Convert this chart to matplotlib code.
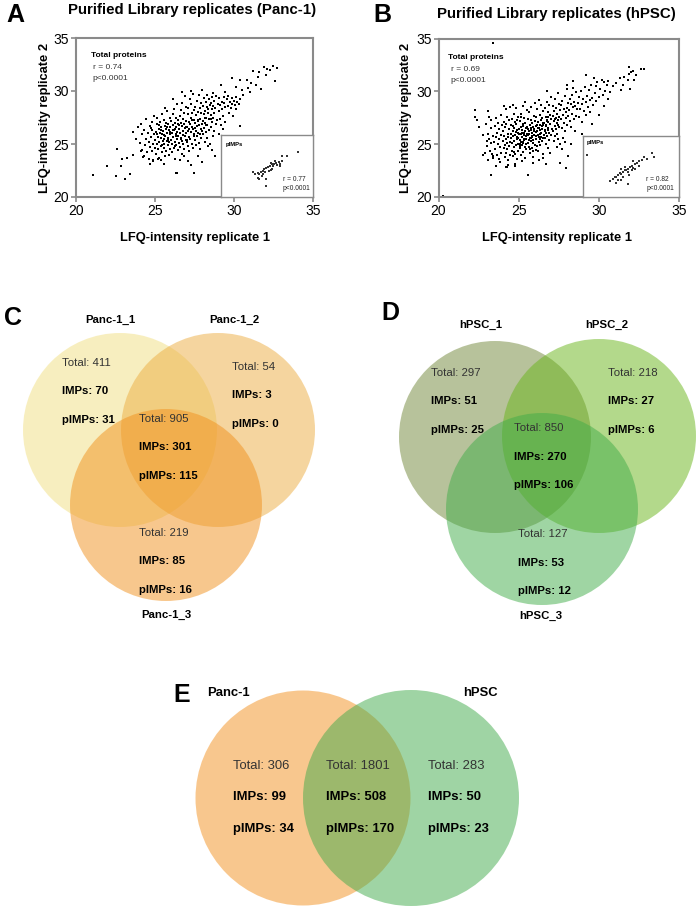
import matplotlib
matplotlib.use("Agg")
import matplotlib.pyplot as plt
from matplotlib.patches import Circle

plt.rcParams['font.family'] = ['Liberation Sans', 'DejaVu Sans']

# ---------------- DATA ----------------
# Panel A: Panc-1 replicate LFQ intensities (replicate 1, replicate 2)
panc1_points = [
    (21.05,22.1),(21.95,22.95),(22.5,21.95),(22.85,22.95),(23.1,21.7),(23.4,22.2),(22.9,23.6),(23.2,23.7),
    (22.6,24.5),(23.6,24.0),(23.8,25.5),(23.9,26.6),(23.6,26.1),(24.1,24.3),(24.3,23.9),(24.7,23.1),
    (24.9,23.5),(25.2,23.6),(25.6,23.1),(26.4,22.3),(27.5,22.3),(28.0,23.3),
    (24.05,25.1),(24.1,26.9),(24.15,24.4),(24.2,25.9),(24.25,23.8),(24.3,26.3),(24.35,24.9),(24.4,27.4),
    (24.45,25.5),(24.5,24.2),
    (24.55,26.0),(24.6,25.2),(24.62,23.6),(24.66,26.7),(24.7,24.7),(24.74,25.7),(24.78,27.1),(24.8,24.3),
    (24.84,26.3),(24.88,25.0),(24.9,23.4),(24.93,25.9),(24.96,27.6),(24.98,24.6),(24.72,26.5),
    (25.02,25.4),(25.05,26.1),(25.08,24.1),(25.1,26.9),(25.12,25.0),(25.15,27.5),(25.18,25.7),(25.2,24.5),
    (25.23,26.4),(25.26,23.7),(25.28,25.2),(25.3,26.0),(25.33,27.1),(25.36,24.8),(25.38,25.6),(25.4,26.6),
    (25.42,24.2),(25.45,25.9),(25.47,27.8),(25.49,25.3),(25.25,26.8),(25.35,23.5),
    (25.52,26.2),(25.54,24.6),(25.56,25.5),(25.58,27.3),(25.6,25.0),(25.62,26.7),(25.64,23.9),(25.66,25.8),
    (25.68,26.4),(25.7,24.3),(25.72,27.0),(25.74,25.3),(25.76,26.0),(25.78,28.1),(25.8,24.9),(25.82,25.6),
    (25.84,26.9),(25.86,24.0),(25.88,26.3),(25.9,25.2),(25.92,27.5),(25.94,25.9),(25.96,24.5),(25.98,26.6),
    (25.65,28.4),
    (26.02,25.4),(26.04,27.2),(26.06,24.2),(26.08,26.0),(26.1,25.0),(26.12,26.8),(26.14,27.8),(26.16,25.7),
    (26.18,24.6),(26.2,26.3),(26.22,28.3),(26.24,25.2),(26.26,27.0),(26.28,23.6),(26.3,25.9),(26.32,26.6),
    (26.34,24.9),(26.36,27.5),(26.38,25.5),(26.4,26.1),(26.42,28.8),(26.44,24.4),(26.46,26.9),(26.48,25.8),
    (26.15,29.2),(26.35,22.3),(26.27,26.45),(26.45,27.3),
    (26.52,26.4),(26.54,25.1),(26.56,27.6),(26.58,24.7),(26.6,26.0),(26.62,28.2),(26.64,25.6),(26.66,27.0),
    (26.68,24.1),(26.7,26.7),(26.72,25.3),(26.74,28.9),(26.76,26.2),(26.78,27.4),(26.8,25.0),(26.82,26.9),
    (26.84,24.5),(26.86,27.9),(26.88,25.8),(26.9,26.5),(26.92,29.5),(26.94,25.4),(26.96,27.2),(26.98,26.0),
    (26.6,23.5),(26.85,23.9),(26.7,29.9),(26.99,28.5),
    (27.02,26.6),(27.04,25.2),(27.06,27.8),(27.08,24.8),(27.1,26.2),(27.12,28.4),(27.14,25.7),(27.16,27.1),
    (27.18,24.3),(27.2,26.9),(27.22,29.2),(27.24,25.5),(27.26,27.5),(27.28,26.1),(27.3,28.8),(27.32,25.0),
    (27.34,26.6),(27.36,27.9),(27.38,24.6),(27.4,26.4),(27.42,29.7),(27.44,25.9),(27.46,27.3),(27.48,28.2),
    (27.1,23.4),(27.3,23.0),(27.45,22.3),(27.25,30.0),
    (27.52,27.0),(27.54,25.4),(27.56,28.5),(27.58,26.2),(27.6,27.7),(27.62,24.9),(27.64,26.7),(27.66,29.1),
    (27.68,25.8),(27.7,27.3),(27.72,28.0),(27.74,26.0),(27.76,29.6),(27.78,25.1),(27.8,26.8),(27.82,28.4),
    (27.84,27.4),(27.86,24.5),(27.88,26.4),(27.9,28.9),(27.92,25.6),(27.94,27.9),(27.96,26.9),(27.98,30.1),
    (27.7,23.9),(27.95,23.3),
    (28.02,27.2),(28.04,28.6),(28.06,25.9),(28.08,27.8),(28.1,26.5),(28.12,29.3),(28.14,25.2),(28.16,28.1),
    (28.18,27.0),(28.2,26.1),(28.22,29.0),(28.24,27.5),(28.26,28.5),(28.28,25.6),(28.3,26.8),(28.32,29.6),
    (28.34,27.9),(28.36,24.8),(28.38,28.3),(28.4,26.3),(28.42,27.4),(28.44,29.2),(28.46,25.0),(28.48,28.7),
    (28.52,27.7),(28.54,28.9),(28.56,26.6),(28.58,29.4),(28.6,27.1),(28.62,28.3),(28.64,25.8),(28.66,29.8),
    (28.68,27.5),(28.7,28.6),(28.72,26.2),(28.74,29.1),(28.76,27.9),(28.8,28.4),(28.84,26.9),(28.88,29.5),
    (28.92,27.3),(28.96,28.8),(28.6,24.4),(28.8,23.9),
    (29.02,28.1),(29.06,29.3),(29.1,27.4),(29.14,28.7),(29.18,26.8),(29.22,29.0),(29.26,28.3),(29.3,27.6),
    (29.34,29.4),(29.38,28.9),(29.42,27.1),(29.46,28.5),(29.2,30.6),(29.4,29.9),(29.05,25.9),(29.3,26.4),
    (29.55,29.2),(29.6,28.6),(29.65,29.5),(29.7,27.9),(29.75,29.0),(29.8,28.4),(29.85,29.3),(29.9,28.8),
    (29.95,27.6),(30.0,29.1),(30.05,28.7),(30.1,29.4),(30.15,28.3),(30.2,29.0),(30.3,28.8),(30.4,29.2),
    (29.9,31.2),(30.15,30.4),
    (30.36,31.0),(30.5,30.1),(30.6,29.6),(30.8,31.07),(30.9,30.3),(31.0,29.9),(31.2,31.9),(31.4,30.6),
    (31.5,31.3),(31.6,31.75),(31.7,30.2),(31.9,32.3),(32.0,31.5),(32.25,31.95),(32.46,32.33),(32.6,30.9),
    (32.7,32.2),(30.36,26.67),(31.1,30.8),(32.1,32.1),
    (25.15,25.95),(25.35,26.35),(25.55,25.85),(25.75,26.65),(25.95,26.15),(26.15,26.35),(26.35,25.75),
    (26.55,26.75),(26.75,25.85),(26.95,26.65),(27.15,26.45),(27.35,27.25),(27.55,26.55),(27.75,27.15),
    (27.95,26.25),(28.15,27.45),(25.45,24.95),(25.85,25.35),(26.25,24.85),(26.65,25.45),(27.05,25.35),
    (27.45,25.75),(27.85,25.95),(28.25,26.75),(28.55,27.35),
]
# Panel A inset: pIMPs
panc1_pimp_points = [
    (32.6,31.0),(30.8,30.0),(30.0,29.8),(29.9,28.8),(29.4,28.4),(29.0,28.2),(28.8,28.6),(28.7,28.0),
    (28.4,27.9),(28.1,28.2),(28.0,27.6),(28.5,27.4),(29.2,27.7),(29.6,28.0),(27.7,27.2),(27.4,27.1),
    (27.0,26.8),(26.8,26.4),(26.5,26.0),(27.2,26.0),(26.2,25.6),(26.0,25.8),(25.6,25.5),(26.7,25.0),
    (27.8,26.2),(28.2,26.6),(27.4,24.3),(26.1,24.6),(25.3,26.0),(27.3,22.6),(26.2,24.4),(26.9,25.6),
    (28.4,26.8),(28.9,28.7),(29.7,27.6),
]
panc1_r, panc1_p = "r = 0.74", "p<0.0001"
panc1_pimp_r, panc1_pimp_p = "r = 0.77", "p<0.0001"

# Panel B: hPSC replicate LFQ intensities
hpsc_points = [
    (22.28,28.2),(22.43,27.3),(22.53,26.6),(23.17,27.56),(23.11,28.1),(22.97,26.93),(20.3,20.1),(23.4,34.6),
    (23.26,22.07),(25.56,22.07),(27.93,22.7),(27.6,23.2),(24.2,22.86),(26.5,23.65),(22.9,24.2),(22.8,24.0),
    (23.1,23.5),(23.4,23.9),(23.0,25.3),(22.8,25.9),(23.6,22.9),(24.3,22.8),(24.8,23.1),(22.3,27.6),
    (23.05,24.8),(23.1,26.0),(23.15,25.5),(23.2,24.4),(23.25,26.5),(23.3,25.1),(23.35,24.1),(23.4,25.8),
    (23.27,27.3),(23.37,23.7),
    (23.49,25.2),(23.52,26.7),(23.55,24.5),(23.57,25.7),(23.6,27.5),(23.63,24.0),(23.67,26.1),(23.69,25.0),
    (23.72,27.0),(23.75,23.6),(23.77,25.5),(23.8,26.4),(23.83,24.7),(23.87,27.8),(23.89,25.9),(23.92,24.2),
    (23.95,26.8),(23.85,23.3),
    (24.02,25.3),(24.04,26.2),(24.06,24.6),(24.08,27.1),(24.1,25.8),(24.12,23.8),(24.14,26.6),(24.16,24.9),
    (24.18,28.3),(24.2,25.5),(24.22,24.2),(24.24,26.9),(24.26,25.1),(24.28,27.6),(24.3,24.5),(24.32,26.0),
    (24.34,23.5),(24.36,25.7),(24.38,27.3),(24.4,24.8),(24.42,26.4),(24.44,25.2),(24.46,28.5),(24.48,24.0),
    (24.1,28.6),(24.35,23.0),
    (24.52,25.6),(24.54,26.8),(24.56,24.4),(24.58,27.4),(24.6,25.1),(24.62,26.2),(24.64,23.9),(24.66,25.8),
    (24.68,27.9),(24.7,24.7),(24.72,26.5),(24.74,25.3),(24.76,27.1),(24.78,24.1),(24.8,25.9),(24.82,26.9),
    (24.84,24.9),(24.86,28.4),(24.88,25.5),(24.9,26.3),(24.92,23.6),(24.94,27.6),(24.96,25.0),(24.98,26.1),
    (24.63,28.7),(24.77,22.9),(24.95,24.4),(24.55,25.95),(24.73,24.3),(24.87,27.3),(24.65,26.7),(24.91,25.7),
    (25.04,26.0),(25.06,24.6),(25.08,27.2),(25.1,25.4),(25.12,26.6),(25.14,24.0),(25.16,27.9),(25.18,25.7),
    (25.2,26.3),(25.22,24.9),(25.24,28.6),(25.26,25.2),(25.28,26.9),(25.3,24.3),(25.32,25.9),(25.34,27.5),
    (25.36,25.5),(25.38,26.2),(25.4,23.7),(25.42,27.0),(25.44,25.0),(25.46,26.5),(25.48,24.5),(25.5,28.2),
    (25.07,25.05),(25.15,25.95),(25.23,26.1),(25.31,25.35),(25.39,24.75),(25.47,25.75),(25.19,23.4),(25.37,29.0),
    (25.12,27.6),
    (25.56,26.4),(25.58,25.1),(25.6,27.4),(25.62,24.7),(25.64,26.0),(25.66,28.0),(25.68,25.6),(25.7,26.8),
    (25.72,24.2),(25.74,27.3),(25.76,25.3),(25.78,26.3),(25.8,28.5),(25.82,25.8),(25.84,24.6),(25.86,27.0),
    (25.88,25.4),(25.9,26.6),(25.92,23.8),(25.94,27.7),(25.96,25.9),(25.98,26.2),(26.0,24.9),(26.02,28.9),
    (25.59,25.85),(25.67,26.25),(25.75,25.55),(25.83,26.05),(25.91,25.15),(25.99,27.15),(25.89,23.2),
    (26.07,26.7),(26.09,25.5),(26.11,27.6),(26.13,24.8),(26.15,26.2),(26.17,28.3),(26.19,25.9),(26.21,27.1),
    (26.23,24.4),(26.25,26.5),(26.27,29.2),(26.29,25.2),(26.31,27.8),(26.33,26.0),(26.35,24.9),(26.37,27.3),
    (26.39,25.7),(26.41,28.7),(26.43,26.4),(26.45,25.3),(26.47,27.5),(26.49,24.1),(26.51,26.8),(26.53,28.1),
    (26.1,26.15),(26.2,26.55),(26.3,26.85),(26.4,26.1),(26.5,27.05),(26.25,23.5),
    (26.6,27.0),(26.62,25.6),(26.64,28.4),(26.66,26.3),(26.68,27.6),(26.7,25.0),(26.72,26.8),(26.74,29.0),
    (26.76,25.8),(26.78,27.3),(26.8,24.6),(26.82,26.5),(26.84,28.0),(26.86,27.1),(26.88,25.4),(26.9,28.7),
    (26.92,26.1),(26.94,27.8),(26.96,24.2),(26.98,26.9),(27.0,29.5),(27.02,25.9),(27.04,27.4),(27.06,26.4),
    (26.73,26.7),(26.83,27.6),(26.93,26.95),(26.68,23.1),(26.74,30.0),
    (27.12,27.7),(27.14,26.2),(27.16,28.6),(27.18,25.3),(27.2,27.2),(27.22,28.1),(27.24,26.7),(27.26,29.3),
    (27.28,25.8),(27.3,27.5),(27.32,26.4),(27.34,28.4),(27.36,27.0),(27.38,24.7),(27.4,27.9),(27.42,26.0),
    (27.44,29.8),(27.46,27.3),(27.48,25.5),(27.5,28.8),(27.52,26.6),(27.54,27.6),(27.56,28.2),(27.58,25.0),
    (27.25,27.35),(27.45,26.85),
    (27.64,27.4),(27.67,28.7),(27.7,26.5),(27.73,29.1),(27.76,27.8),(27.79,25.6),(27.82,28.3),(27.85,27.0),
    (27.88,29.6),(27.91,26.2),(27.94,28.0),(27.97,27.5),(28.0,30.2),(28.03,26.8),(28.06,28.9),(28.09,27.7),
    (27.72,24.5),(27.92,25.2),(28.07,23.9),(28.0,30.6),(28.02,28.4),
    (28.16,28.2),(28.19,29.3),(28.22,27.2),(28.25,28.8),(28.28,26.6),(28.31,29.7),(28.34,27.9),(28.37,28.5),
    (28.4,30.3),(28.43,27.4),(28.46,29.0),(28.49,26.2),(28.52,28.6),(28.55,29.9),(28.58,27.7),(28.61,28.3),
    (28.24,25.0),(28.4,31.0),
    (28.7,28.9),(28.75,27.6),(28.79,29.5),(28.83,28.3),(28.87,30.0),(28.92,27.1),(28.97,28.8),(29.02,29.3),
    (29.07,28.1),(29.12,30.4),(29.17,29.0),(29.22,27.8),(29.27,29.6),(29.32,28.5),(29.37,30.1),(29.42,29.2),
    (29.47,28.0),(29.52,30.6),(29.57,29.4),(29.62,28.7),(29.2,31.5),(28.97,26.0),(29.57,26.9),
    (29.75,29.8),(29.8,30.5),(29.85,29.1),(29.9,30.9),(30.3,30.9),(30.0,29.5),(30.1,30.2),(30.2,31.1),
    (30.26,29.65),(30.6,30.96),(30.4,30.0),(30.5,30.6),(30.9,30.5),(30.68,29.97),(30.0,27.8),(30.3,28.6),
    (29.7,31.3),(30.55,29.3),
    (31.1,30.8),(31.3,31.3),(31.5,30.6),(31.4,30.1),(31.9,31.6),(31.97,30.2),(31.9,32.3),(32.1,31.9),
    (32.2,31.07),(32.3,31.5),(32.6,32.07),(32.8,32.07),(31.6,31.4),(31.8,31.1),(32.0,31.8),
    (24.95,25.55),(25.05,26.45),(25.15,25.25),(25.25,26.75),(25.35,26.05),(25.45,25.45),(25.55,26.65),
    (25.65,25.35),(25.75,26.55),(25.85,25.65),(25.95,26.45),(26.05,25.75),(26.15,26.85),(26.25,25.65),
    (26.35,26.35),(26.45,26.75),(26.55,25.85),(26.65,26.25),(26.75,27.15),(26.85,26.35),(24.85,26.15),
    (25.1,24.85),(25.3,25.15),(25.5,25.95),(25.7,24.55),(25.9,24.35),(26.1,24.45),(26.3,25.45),
    (26.5,25.55),(26.7,26.05),
]
# Panel B inset: pIMPs
hpsc_pimp_points = [
    (20.7,30.4),(30.8,30.7),(31.1,29.7),(30.0,29.3),(29.2,29.1),(28.7,28.8),(28.4,28.3),(28.8,27.7),
    (28.1,28.1),(27.6,27.7),(27.4,27.3),(27.9,27.1),(27.1,26.9),(26.8,26.6),(26.6,26.5),(26.3,26.1),
    (27.0,26.1),(26.0,25.7),(25.8,25.8),(25.5,25.3),(25.2,25.0),(25.0,24.9),(24.7,24.5),(25.5,24.2),
    (26.3,24.9),(27.2,25.5),(27.6,26.5),(28.2,26.9),(27.1,23.2),(24.3,23.9),(25.2,23.4),(26.0,24.1),
    (27.9,28.8),(29.5,29.9),(26.6,27.3),(25.9,26.9),
]
hpsc_r, hpsc_p = "r = 0.69", "p<0.0001"
hpsc_pimp_r, hpsc_pimp_p = "r = 0.82", "p<0.0001"

axis_ticks = [20, 25, 30, 35]

# Panel C: Panc-1 replicate Venn (regions: only 1, only 2, only 3, all three)
C_sets = ["Panc-1_1", "Panc-1_2", "Panc-1_3"]
C_total = [411, 54, 219, 905]
C_imps = [70, 3, 85, 301]
C_pimps = [31, 0, 16, 115]

# Panel D: hPSC replicate Venn
D_sets = ["hPSC_1", "hPSC_2", "hPSC_3"]
D_total = [297, 218, 127, 850]
D_imps = [51, 27, 53, 270]
D_pimps = [25, 6, 12, 106]

# Panel E: Panc-1 vs hPSC (regions: only Panc-1, only hPSC, both)
E_sets = ["Panc-1", "hPSC"]
E_total = [306, 283, 1801]
E_imps = [99, 50, 508]
E_pimps = [34, 23, 170]

# ---------------- FIGURE ----------------
W, H = 698, 907
fig = plt.figure(figsize=(W / 100, H / 100), dpi=100)

# overlay in pixel coordinates for Venn diagrams and panel letters
ov = fig.add_axes([0, 0, 1, 1])
ov.set_xlim(0, W)
ov.set_ylim(H, 0)
ov.axis("off")

SPINE = "#8a8a8a"


def scatter_panel(rect, pts, ipts, inset_x0, inset_y1, rtxt, ptxt, irtxt, iptxt, tpos, ipos, ppos):
    ax = fig.add_axes(rect)
    ax.scatter([p[0] for p in pts], [p[1] for p in pts], s=2.6, marker="s", c="black", linewidths=0)
    ax.set_xlim(20, 35)
    ax.set_ylim(20, 35)
    ax.set_xticks(axis_ticks)
    ax.set_yticks(axis_ticks)
    for sp in ax.spines.values():
        sp.set_color(SPINE)
        sp.set_linewidth(1.5)
    ax.tick_params(colors=SPINE, labelcolor="black", length=3.5, width=1.2, labelsize=10, pad=1.5)
    tx, ty, rx = tpos
    ax.text(tx, ty, "Total proteins", transform=ax.transAxes, fontsize=6, fontweight="bold", va="center")
    ax.text(rx, ty - 0.072, rtxt, transform=ax.transAxes, fontsize=6, color="#333333", va="center")
    ax.text(rx, ty - 0.142, ptxt, transform=ax.transAxes, fontsize=6, color="#333333", va="center")
    ins = ax.inset_axes([inset_x0, 20, 35 - inset_x0, inset_y1 - 20], transform=ax.transData)
    ins.scatter([p[0] for p in ipts], [p[1] for p in ipts], s=1.4, marker="s", c="#333333", linewidths=0)
    ins.set_xlim(20, 35)
    ins.set_ylim(20, 35)
    ins.set_xticks([])
    ins.set_yticks([])
    for sp in ins.spines.values():
        sp.set_color(SPINE)
        sp.set_linewidth(1.0)
    ix, iy, iy2 = ipos
    ins.text(ppos[0], ppos[1], "pIMPs", transform=ins.transAxes, fontsize=4.2, fontweight="bold", va="center")
    ins.text(ix, iy, irtxt, transform=ins.transAxes, fontsize=4.8, color="#222222", va="center")
    ins.text(ix, iy2, iptxt, transform=ins.transAxes, fontsize=4.8, color="#222222", va="center")
    return ax


scatter_panel([76 / W, 1 - 197 / H, 237 / W, 159 / H], panc1_points, panc1_pimp_points, 29.16, 25.85,
              panc1_r, panc1_p, panc1_pimp_r, panc1_pimp_p,
              (0.065, 0.887, 0.070), (0.675, 0.282, 0.13), (0.054, 0.843))
scatter_panel([438.5 / W, 1 - 197 / H, 240.5 / W, 158.5 / H], hpsc_points, hpsc_pimp_points, 29.0, 25.8,
              hpsc_r, hpsc_p, hpsc_pimp_r, hpsc_pimp_p,
              (0.041, 0.879, 0.051), (0.66, 0.29, 0.143), (0.045, 0.89))

# axis labels and titles
lab_kw = dict(fontsize=9.3, fontweight="bold", ha="center")
for cx, cy in [(194.5, 241), (557.5, 241)]:
    ov.text(cx, cy, "LFQ-intensity replicate 1", va="baseline", **lab_kw)
for cx in [45.5, 406.5]:
    ov.text(cx, 117.5, "LFQ-intensity replicate 2", va="center", rotation=90, **lab_kw)
ov.text(192, 10, "Purified Library replicates (Panc-1)", fontsize=10.8, fontweight="bold", ha="center", va="center")
ov.text(556, 14, "Purified Library replicates (hPSC)", fontsize=10.8, fontweight="bold", ha="center", va="center")

# panel letters
for letter, (lx, ly) in zip("ABCDE", [(15, 15), (382, 15), (13, 318), (390, 313), (182, 695)]):
    ov.text(lx, ly, letter, fontsize=18, fontweight="bold", ha="center", va="center")


def venn(circles, colors, alpha, set_labels, label_pos, totals, imps, pimps, text_pos, step, fs):
    for (cx, cy, r), col in zip(circles, colors):
        ov.add_patch(Circle((cx, cy), r, facecolor=col, alpha=alpha, edgecolor="none"))
    for name, (lx, ly) in zip(set_labels, label_pos):
        ov.text(lx, ly, name, fontsize=fs, fontweight="bold", ha="center", va="center")
    for t, i, p, (x, y) in zip(totals, imps, pimps, text_pos):
        ov.text(x, y, f"Total: {t}", fontsize=fs, color="#333333", va="center")
        ov.text(x, y + step, f"IMPs: {i}", fontsize=fs, fontweight="bold", va="center")
        ov.text(x, y + 2 * step, f"pIMPs: {p}", fontsize=fs, fontweight="bold", va="center")


venn([(120, 430, 97), (218, 430, 97), (166, 505, 96)],
     ["#F1DF81", "#EDAD41", "#F1911D"], 0.5,
     C_sets, [(110, 320), (234, 320), (166, 615)],
     C_total, C_imps, C_pimps,
     [(62, 363), (232, 367), (139, 533), (139, 419)], 28.5, 8.2)

venn([(495, 437, 96), (599, 436, 97), (542, 509, 96)],
     ["#718739", "#69B519", "#41AD49"], 0.5,
     D_sets, [(481, 325), (607, 325), (541, 616)],
     D_total, D_imps, D_pimps,
     [(431, 373), (608, 373), (518, 534), (514, 428)], 28.5, 8.2)

venn([(303, 798, 107.5), (411, 798, 108)],
     ["#F3911F", "#41AB4B"], 0.5,
     E_sets, [(228, 693), (480, 693)],
     E_total, E_imps, E_pimps,
     [(233, 766), (428, 766), (326, 766)], 31.5, 9.4)

fig.savefig("out.png", dpi=100)
